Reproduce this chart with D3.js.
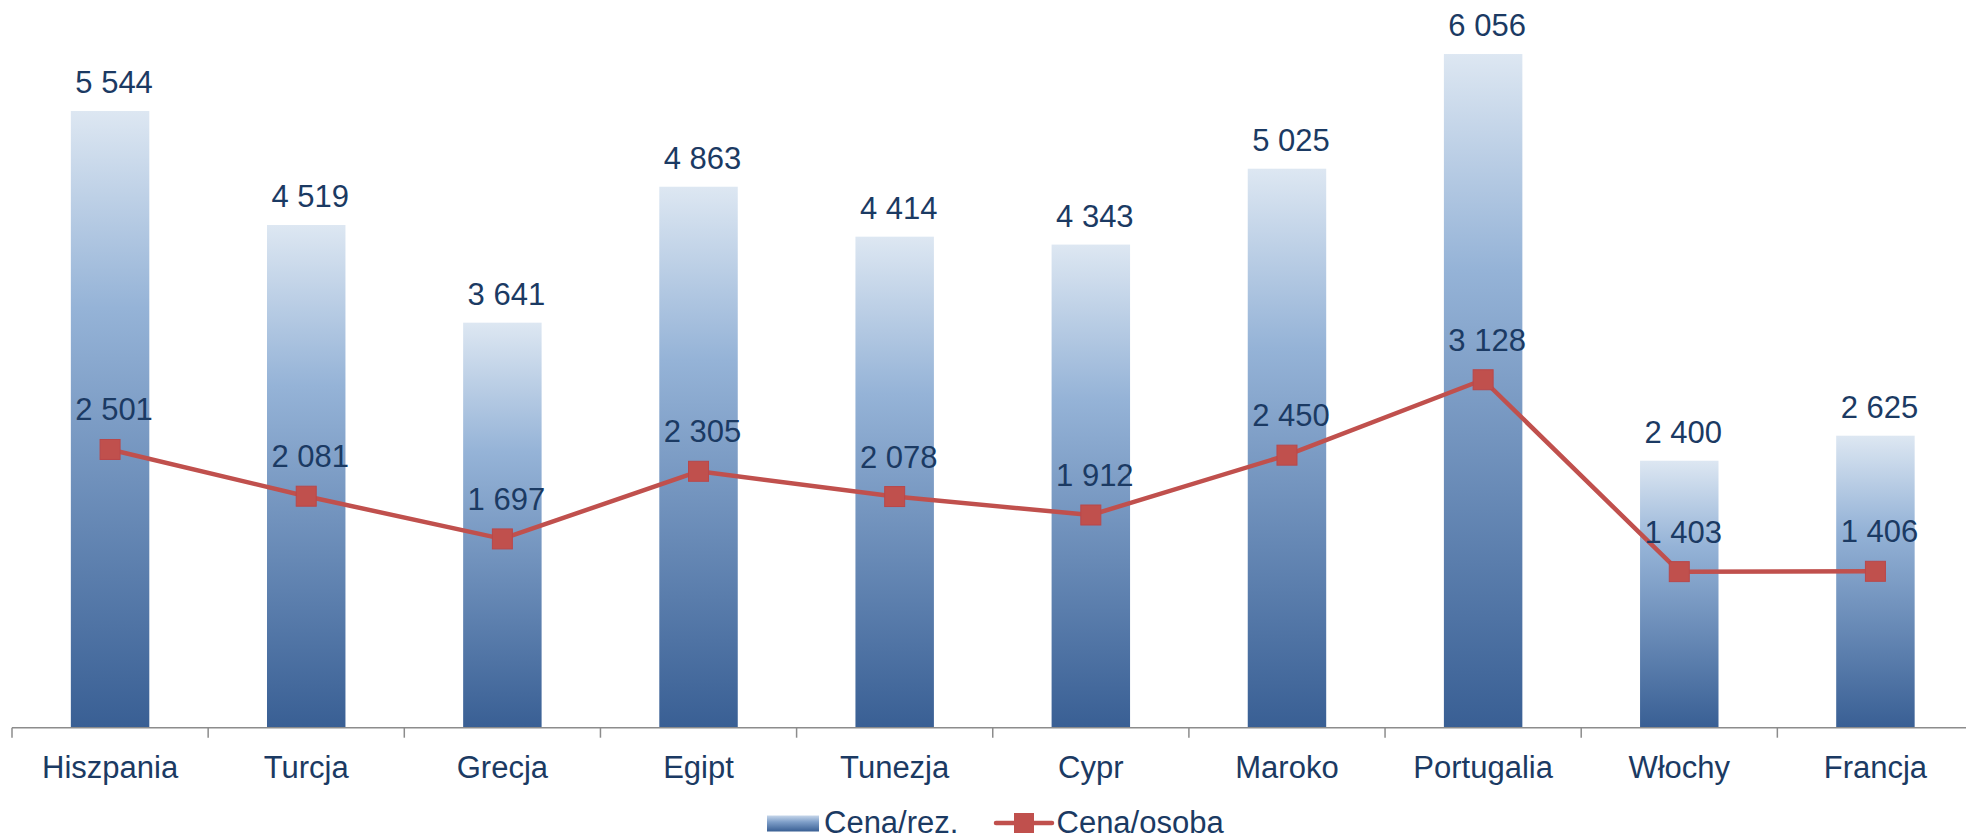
<!DOCTYPE html>
<html>
<head>
<meta charset="utf-8">
<script src="https://cdn.jsdelivr.net/npm/d3@7"></script>
<style>
  body { margin: 0; background: #fff; }
  svg text { font-family: "Liberation Sans", Arial, sans-serif; fill: #1b3a63; }
</style>
</head>
<body>
<div class="chart"></div>
<script>
(function(){

//data
var categories = ["Hiszpania", "Turcja", "Grecja", "Egipt", "Tunezja", "Cypr", "Maroko", "Portugalia", "Włochy", "Francja"];
var cenaRez = [5544, 4519, 3641, 4863, 4414, 4343, 5025, 6056, 2400, 2625];
var cenaOsoba = [2501, 2081, 1697, 2305, 2078, 1912, 2450, 3128, 1403, 1406];
var seriesNames = ["Cena/rez.", "Cena/osoba"];

var width = 1966,
    height = 840;

var baseY = 727.7;

var svg = d3.select(".chart")
    .append("svg")
    .attr("width", width)
    .attr("height", height);

//bar gradient
var defs = svg.append("defs");
var grad = defs.append("linearGradient")
    .attr("id", "barGrad")
    .attr("x1", 0).attr("y1", 0)
    .attr("x2", 0).attr("y2", 1);
grad.append("stop").attr("offset", "0%").attr("stop-color", "#dde7f2");
grad.append("stop").attr("offset", "32%").attr("stop-color", "#95b3d7");
grad.append("stop").attr("offset", "100%").attr("stop-color", "#395f94");

var x = d3.scaleBand()
    .domain(categories)
    .range([12, 1973.5])
    .paddingInner(0.6)
    .paddingOuter(0.3);

var y = d3.scaleLinear()
    .domain([0, 6500])
    .range([baseY, baseY - 6500 * 0.11124]);

var fmt = d3.formatLocale({decimal: ",", thousands: " ", grouping: [3], currency: ["", ""]}).format(",d");

var cx = function(c){ return x(c) + x.bandwidth() / 2; };

//bars
svg.selectAll(".bar")
    .data(categories)
    .enter()
    .append("rect")
    .attr("class", "bar")
    .attr("x", function(d){ return x(d); })
    .attr("width", x.bandwidth())
    .attr("y", function(d, i){ return y(cenaRez[i]); })
    .attr("height", function(d, i){ return baseY - y(cenaRez[i]); })
    .style("fill", "url(#barGrad)");

//axis line + ticks at category boundaries
svg.append("line")
    .attr("x1", x.range()[0]).attr("x2", x.range()[1])
    .attr("y1", baseY).attr("y2", baseY)
    .style("stroke", "#8c8c8c").style("stroke-width", 1.5);

svg.selectAll(".tick-b")
    .data(d3.range(categories.length + 1))
    .enter()
    .append("line")
    .attr("x1", function(i){ return x.range()[0] + i * x.step(); })
    .attr("x2", function(i){ return x.range()[0] + i * x.step(); })
    .attr("y1", baseY).attr("y2", baseY + 10)
    .style("stroke", "#8c8c8c").style("stroke-width", 1.5);

var xAxis = svg.append("g")
    .attr("transform", "translate(0," + baseY + ")")
    .call(d3.axisBottom(x).tickSize(0).tickPadding(28));
xAxis.select(".domain").remove();
xAxis.selectAll("text")
    .style("font-family", "'Liberation Sans', Arial, sans-serif")
    .style("font-size", "31px")
    .style("fill", "#1b3a63");

//bar labels
svg.selectAll(".barLabel")
    .data(categories)
    .enter()
    .append("text")
    .attr("x", function(d){ return cx(d) + 4; })
    .attr("y", function(d, i){ return y(cenaRez[i]) - 18; })
    .attr("text-anchor", "middle")
    .style("font-size", "31px")
    .text(function(d, i){ return fmt(cenaRez[i]); });

//line
var line = d3.line()
    .x(function(d, i){ return cx(categories[i]); })
    .y(function(d){ return y(d); });

svg.append("path")
    .datum(cenaOsoba)
    .attr("d", line)
    .style("fill", "none")
    .style("stroke", "#c0504d")
    .style("stroke-width", 4.5)
    .style("stroke-linejoin", "round");

svg.selectAll(".marker")
    .data(cenaOsoba)
    .enter()
    .append("rect")
    .attr("x", function(d, i){ return cx(categories[i]) - 10; })
    .attr("y", function(d){ return y(d) - 10; })
    .attr("width", 20).attr("height", 20)
    .style("fill", "#c0504d")
    .style("stroke", "#b9474a").style("stroke-width", 1);

svg.selectAll(".lineLabel")
    .data(cenaOsoba)
    .enter()
    .append("text")
    .attr("x", function(d, i){ return cx(categories[i]) + 4; })
    .attr("y", function(d){ return y(d) - 29; })
    .attr("text-anchor", "middle")
    .style("font-size", "31px")
    .text(function(d){ return fmt(d); });

//legend
var legend = svg.append("g").attr("transform", "translate(767,832.5)");

var lgGrad = defs.append("linearGradient")
    .attr("id", "legGrad")
    .attr("x1", 0).attr("y1", 0)
    .attr("x2", 0).attr("y2", 1);
lgGrad.append("stop").attr("offset", "0%").attr("stop-color", "#c6d6ea");
lgGrad.append("stop").attr("offset", "40%").attr("stop-color", "#7f9fc9");
lgGrad.append("stop").attr("offset", "100%").attr("stop-color", "#395f94");

legend.append("rect")
    .attr("x", 0).attr("y", -17)
    .attr("width", 52).attr("height", 16)
    .style("fill", "url(#legGrad)");
legend.append("text")
    .attr("x", 57).attr("y", 0)
    .style("font-size", "31px")
    .text(seriesNames[0]);

legend.append("line")
    .attr("x1", 229).attr("x2", 285)
    .attr("y1", -9.5).attr("y2", -9.5)
    .style("stroke", "#c0504d").style("stroke-width", 4.5)
    .style("stroke-linecap", "round");
legend.append("rect")
    .attr("x", 247).attr("y", -19.5)
    .attr("width", 20).attr("height", 20)
    .style("fill", "#c0504d");
legend.append("text")
    .attr("x", 289.5).attr("y", 0)
    .style("font-size", "31px")
    .text(seriesNames[1]);

})();
</script>
</body>
</html>
